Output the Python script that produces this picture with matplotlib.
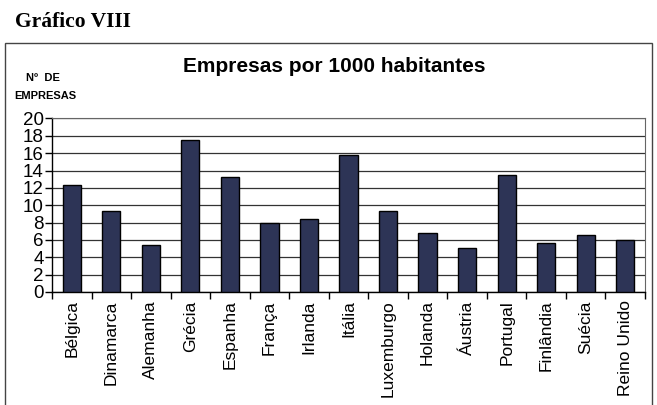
import numpy as np
import matplotlib.pyplot as plt
from matplotlib.patches import Rectangle

paises = ["Bélgica", "Dinamarca", "Alemanha", "Grécia", "Espanha", "França",
          "Irlanda", "Itália", "Luxemburgo", "Holanda", "Áustria", "Portugal",
          "Finlândia", "Suécia", "Reino Unido"]
empresas = [12.3, 9.3, 5.4, 17.5, 13.2, 8.0, 8.4, 15.8, 9.3, 6.8, 5.1, 13.5,
            5.7, 6.6, 6.0]
y_ticks = list(range(0, 21, 2))

plt.rcParams['font.family'] = ['Liberation Sans', 'DejaVu Sans']

fig = plt.figure(figsize=(6.57, 4.05), dpi=100)

# outer frame around the chart
fig.patches.append(Rectangle((5 / 657, -0.05), 647 / 657, 1.05 - 43 / 405,
                             transform=fig.transFigure, fill=False,
                             edgecolor='#444444', linewidth=1.0))

fig.text(15 / 657, 1 - 22 / 405, "Gráfico VIII", family='Liberation Serif',
         fontweight='bold', fontsize=15.5, va='center', ha='left')
fig.text(334 / 657, 1 - 67 / 405, "Empresas por 1000 habitantes",
         fontweight='bold', fontsize=15, ha='center', va='center')
fig.text(43 / 657, 1 - 78 / 405, "Nº  DE", fontweight='bold', fontsize=8,
         ha='center', va='center')
fig.text(45 / 657, 1 - 96 / 405, "EMPRESAS", fontweight='bold', fontsize=8,
         ha='center', va='center')

ax = fig.add_axes([52 / 657, 1 - 292 / 405, 593 / 657, 173.5 / 405])
x = np.arange(len(paises))
ax.bar(x, empresas, width=0.46, color='#2d3456', edgecolor='black',
       linewidth=1.0, zorder=3)

ax.set_xlim(-0.5, len(paises) - 0.5)
ax.set_ylim(0, 20)
ax.set_yticks(y_ticks)
ax.set_yticklabels([str(v) for v in y_ticks], fontsize=13.5)
ax.yaxis.grid(True, color='#333333', linewidth=0.9)
ax.set_axisbelow(True)

# category labels under bars, ticks between categories
ax.set_xticks(x)
ax.set_xticklabels(paises, rotation=90, fontsize=12.5)
ax.tick_params(axis='x', length=0, pad=6)
ax.set_xticks(np.arange(-0.5, len(paises)), minor=True)
ax.tick_params(axis='x', which='minor', length=5, direction='out', width=1)
ax.tick_params(axis='y', length=5, direction='out', width=1, pad=1)

for side in ['top', 'right']:
    ax.spines[side].set_color('#666666')
    ax.spines[side].set_linewidth(0.8)
ax.spines['left'].set_linewidth(1.0)
ax.spines['bottom'].set_linewidth(1.0)

fig.savefig("out.png", dpi=100)
